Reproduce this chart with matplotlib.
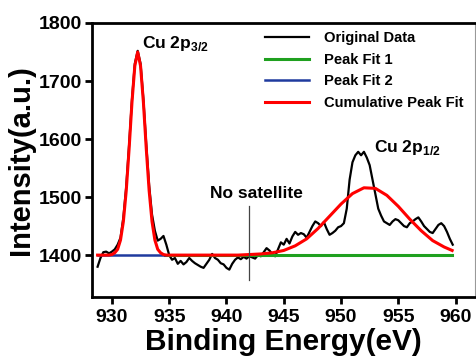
import numpy as np
import matplotlib
matplotlib.use("Agg")
import matplotlib.pyplot as plt

plt.rcParams['font.family'] = ['Liberation Sans', 'DejaVu Sans']
plt.rcParams['font.weight'] = 'bold'
plt.rcParams['axes.labelweight'] = 'bold'
plt.rcParams['mathtext.fontset'] = 'custom'
plt.rcParams['mathtext.rm'] = 'Liberation Sans:bold'
plt.rcParams['mathtext.bf'] = 'Liberation Sans:bold'

# measured spectrum, 0.25 eV steps starting at 928.75 eV
e_start, e_step = 928.75, 0.25
original = [1380,
            1395, 1405, 1406, 1403,   # 929
            1406, 1410, 1418, 1430,   # 930
            1465, 1518, 1590, 1668,   # 931
            1730, 1752, 1730, 1668,   # 932
            1590, 1520, 1470, 1442,   # 933
            1425, 1428, 1433, 1418,   # 934
            1400, 1392, 1395, 1385,   # 935
            1390, 1384, 1388, 1395,   # 936
            1390, 1386, 1383, 1380,   # 937
            1378, 1385, 1392, 1402,   # 938
            1395, 1392, 1386, 1384,   # 939
            1378, 1375, 1385, 1392,   # 940
            1396, 1393, 1397, 1394,   # 941
            1398, 1396, 1394, 1400,   # 942
            1398, 1405, 1412, 1408,   # 943
            1402, 1398, 1410, 1422,   # 944
            1418, 1428, 1420, 1432,   # 945
            1440, 1435, 1438, 1436,   # 946
            1430, 1440, 1450, 1458,   # 947
            1455, 1450, 1457, 1445,   # 948
            1435, 1438, 1442, 1448,   # 949
            1450, 1455, 1480, 1530,   # 950
            1560, 1572, 1578, 1572,   # 951
            1578, 1568, 1555, 1530,   # 952
            1505, 1480, 1468, 1458,   # 953
            1455, 1452, 1458, 1462,   # 954
            1460, 1455, 1450, 1448,   # 955
            1455, 1458, 1462, 1465,   # 956
            1458, 1450, 1445, 1440,   # 957
            1438, 1445, 1452, 1455,   # 958
            1450, 1440, 1428, 1418]   # 959
energy = e_start + e_step * np.arange(len(original))

# cumulative fit
fit_x = [928.75, 929.75, 930.0, 930.25, 930.5, 930.75, 931.0, 931.25, 931.5,
         931.75, 932.0, 932.25, 932.5, 932.75, 933.0, 933.25, 933.5, 933.75,
         934.0, 934.25, 934.5, 934.75,
         940, 941, 942, 943, 944, 945, 946, 947, 948, 949, 950, 951, 952,
         953, 954, 955, 956, 957, 958, 959, 959.7]
fit_y = [1400, 1400, 1401, 1404, 1410, 1426, 1458, 1511, 1583,
         1663, 1726, 1750, 1726, 1663, 1583, 1511, 1458, 1426,
         1410, 1404, 1401, 1400,
         1400, 1400, 1401, 1402, 1404, 1408, 1416, 1428, 1446, 1467, 1488,
         1506, 1516, 1515, 1503, 1484, 1462, 1442, 1425, 1414, 1408]

# flat parts of the two peak components
fit2_x = [928.75, 934.6]
fit2_y = [1400, 1400]
fit1_x = [934.6, 959.7]
fit1_y = [1400, 1400]

sat_pos = 942.0
sat_range = (1357, 1484)

fig = plt.figure(figsize=(4.76, 3.59), dpi=100)
ax = fig.add_axes([0.193, 0.173, 0.805, 0.763])

ax.plot(energy, original, color='black', lw=1.6, label='Original Data')
ax.plot(fit1_x, fit1_y, color='#1fa01f', lw=2.2, label='Peak Fit 1')
ax.plot(fit2_x, fit2_y, color='#1f3a9e', lw=1.8, label='Peak Fit 2')
ax.plot(fit_x, fit_y, color='red', lw=2.2, label='Cumulative Peak Fit')
ax.plot([sat_pos, sat_pos], sat_range, color='#444444', lw=0.9)

ax.text(932.6, 1765, r'Cu 2p$_{\mathbf{3/2}}$', fontsize=12.5, va='center')
ax.text(952.9, 1586, r'Cu 2p$_{\mathbf{1/2}}$', fontsize=12.5, va='center')
ax.text(942.6, 1507, 'No satellite', fontsize=12.5, ha='center', va='center')

ax.set_xlim(928.25, 961.7)
ax.set_ylim(1328, 1800)
ax.set_xticks([930, 935, 940, 945, 950, 955, 960])
ax.set_yticks([1400, 1500, 1600, 1700, 1800])
ax.tick_params(direction='out', length=5, width=2, labelsize=14, pad=2)
ax.tick_params(axis='x', pad=4)

for side in ['left', 'bottom', 'top']:
    ax.spines[side].set_linewidth(2)
ax.spines['right'].set_linewidth(0.8)
ax.spines['right'].set_color('#999999')

ax.set_xlabel('Binding Energy(eV)', fontsize=21.5, labelpad=1)
ax.set_ylabel('Intensity(a.u.)', fontsize=21, labelpad=3)

ax.legend(loc='upper left', bbox_to_anchor=(0.43, 1.0), frameon=False,
          fontsize=10.6, handlelength=3.0, handletextpad=1.0,
          labelspacing=0.52, borderpad=0.55, borderaxespad=0)

fig.savefig('out.png', dpi=100)
